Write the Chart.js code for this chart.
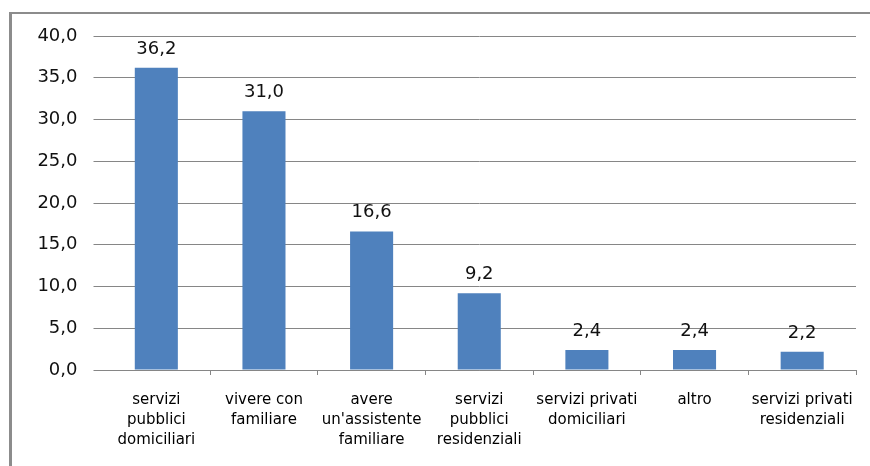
<!DOCTYPE html>
<html>
<head>
<meta charset="utf-8">
<script src="https://cdn.jsdelivr.net/npm/chart.js@4/dist/chart.umd.min.js"></script>
<style>
  html, body { margin: 0; padding: 0; background: #fff; }
  #wrap { position: relative; width: 870px; height: 466px; }
  #frame {
    position: absolute; left: 9px; top: 12px; right: 0; bottom: 0;
    border-left: 3px solid #8c8c8c; border-top: 2px solid #8c8c8c;
    pointer-events: none;
  }
</style>
</head>
<body>
<div id="wrap">
  <canvas id="chart" width="870" height="466"></canvas>
  <div id="frame"></div>
</div>
<script>
// categories (multi-line labels as in the original)
const categories = [
  ['servizi', 'pubblici', 'domiciliari'],
  ['vivere con', 'familiare'],
  ['avere', "un'assistente", 'familiare'],
  ['servizi', 'pubblici', 'residenziali'],
  ['servizi privati', 'domiciliari'],
  ['altro'],
  ['servizi privati', 'residenziali']
];
const values = [36.2, 31.0, 16.6, 9.2, 2.4, 2.4, 2.2];
const yTicks = [0, 5, 10, 15, 20, 25, 30, 35, 40];

const fmt = v => v.toFixed(1).replace('.', ',');

// draws the value above each bar
const valueLabels = {
  id: 'valueLabels',
  afterDatasetsDraw(chart) {
    const ctx = chart.ctx;
    const meta = chart.getDatasetMeta(0);
    ctx.save();
    ctx.font = '18px "DejaVu Sans"';
    ctx.fillStyle = '#111';
    ctx.textAlign = 'center';
    ctx.textBaseline = 'alphabetic';
    meta.data.forEach((bar, i) => {
      ctx.fillText(fmt(values[i]), bar.x, bar.y - 14);
    });
    ctx.restore();
  }
};

new Chart(document.getElementById('chart').getContext('2d'), {
  type: 'bar',
  data: {
    labels: categories,
    datasets: [{
      data: values,
      backgroundColor: '#4f81bd',
      borderWidth: 0,
      barPercentage: 0.4,
      categoryPercentage: 1
    }]
  },
  options: {
    responsive: false,
    animation: false,
    layout: { padding: { top: 36, right: 14, left: 0, bottom: 0 } },
    plugins: {
      legend: { display: false },
      tooltip: { enabled: false }
    },
    scales: {
      x: {
        offset: true,
        grid: {
          offset: true,
          drawOnChartArea: false,
          drawTicks: true,
          tickLength: 5,
          color: ctx => (ctx.index === 0 || ctx.index === categories.length) ? 'rgba(0,0,0,0)' : '#868686'
        },
        border: { display: true, color: '#868686', width: 1 },
        ticks: {
          maxRotation: 0,
          autoSkip: false,
          padding: 15,
          color: '#000',
          font: { family: '"DejaVu Sans"', size: 15, lineHeight: '20px' }
        },
        afterFit: scale => { scale.height = 96; }
      },
      y: {
        min: 0,
        max: 40,
        afterBuildTicks: scale => { scale.ticks = yTicks.map(v => ({ value: v })); },
        grid: {
          color: '#868686',
          drawTicks: true,
          tickLength: 9
        },
        border: { display: false },
        ticks: {
          padding: 16,
          color: '#111',
          font: { family: '"DejaVu Sans"', size: 18 },
          callback: v => fmt(v)
        },
        afterFit: scale => { scale.width = 102.5; }
      }
    }
  },
  plugins: [valueLabels]
});
</script>
</body>
</html>
